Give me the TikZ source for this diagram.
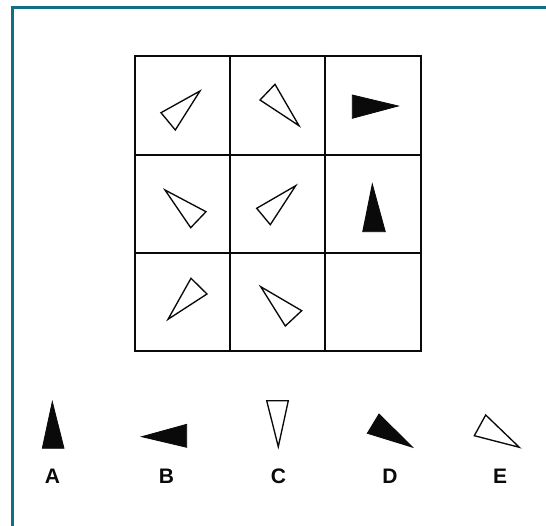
\documentclass[tikz,border=0pt]{standalone}
\usepackage{fontspec}
\newfontfamily\lblfont{Liberation Sans}
\usepackage{tikz}
\usetikzlibrary{positioning}
\usepackage{xcolor}
\definecolor{frameteal}{RGB}{14,112,128}
\definecolor{inkdark}{RGB}{10,10,10}

\begin{document}
\begin{tikzpicture}[
  x=1pt, y=-1pt,
  grid/.style={draw=inkdark, line width=1.8pt},
  opentri/.style={draw=inkdark, line width=1.35pt, line join=miter, fill=white},
  solidtri/.style={draw=inkdark, line width=0.8pt, line join=miter, fill=inkdark},
  letter/.style={font=\lblfont\bfseries\fontsize{21}{21}\selectfont, inkdark, inner sep=0pt},
]
  \useasboundingbox (0,0) rectangle (546,526);
  \clip (0,0) rectangle (546,526);

  % ── Outer frame ──
  \draw[frameteal, line width=2.6pt] (12.5,7.5) rectangle (580,560);

  % ── Matrix grid ──
  \foreach \gx in {135,230,325,421} {
    \draw[grid] (\gx,55) -- (\gx,352);
  }
  \foreach \gy in {56,155,253,351} {
    \draw[grid] (134,\gy) -- (422,\gy);
  }

  % ── Row 1 ──
  \draw[opentri] (200,91) -- (161,112.7) -- (175.3,130) -- cycle;
  \draw[opentri] (275,84.3) -- (260,100) -- (299,125.7) -- cycle;
  \draw[solidtri] (352.3,95) -- (352.3,118.3) -- (398.3,106) -- cycle;

  % ── Row 2 ──
  \draw[opentri] (165,190) -- (206,211.7) -- (190.7,227.7) -- cycle;
  \draw[opentri] (295.7,185.7) -- (256.7,208.3) -- (270.3,224.7) -- cycle;
  \draw[solidtri] (372.3,184) -- (362.7,231.7) -- (385.3,231.7) -- cycle;

  % ── Row 3 (last cell empty) ──
  \draw[opentri] (191,278.3) -- (207,294) -- (168,319.3) -- cycle;
  \draw[opentri] (260.7,286.7) -- (301.7,310.7) -- (285.3,326) -- cycle;

  % ── Answer choices ──
  \draw[solidtri] (52.3,401.7) -- (42.3,448.3) -- (64,448.3) -- cycle;
  \draw[solidtri] (141.7,436.7) -- (186.7,424.3) -- (186.7,447.3) -- cycle;
  \draw[opentri] (266.7,400.7) -- (288.3,400.7) -- (278.3,446.7) -- cycle;
  \draw[solidtri] (379,414) -- (367.3,433.3) -- (412.7,447.3) -- cycle;
  \draw[opentri] (485.7,415) -- (474.3,435.7) -- (519.3,447.3) -- cycle;

  \node[letter] (la) at (52.5,476) {A};
  \node[letter] (lb) at (166.5,476) {B};
  \node[letter] (lc) at (278.5,476) {C};
  \node[letter] (ld) at (390,476) {D};
  \node[letter] (le) at (500,476) {E};
\end{tikzpicture}
\end{document}
